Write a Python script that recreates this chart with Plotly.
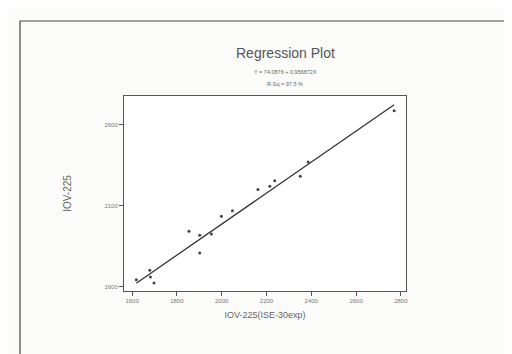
import plotly.graph_objects as go

# Data
x_obs = [1619, 1679, 1682, 1698, 1854, 1902, 1902, 1954, 1999, 2048, 2162, 2215, 2237, 2351, 2386, 2770]
y_obs = [1645, 1703, 1662, 1625, 1944, 1919, 1810, 1927, 2036, 2071, 2201, 2222, 2256, 2283, 2372, 2688]
intercept = 74.0876
slope = 0.956872
x_ticks = [1600, 1800, 2000, 2200, 2400, 2600, 2800]
y_ticks = [1600, 2100, 2600]

x_fit = [min(x_obs), max(x_obs)]
y_fit = [intercept + slope * v for v in x_fit]

W, H = 512, 354
L, R, T, B = 116, 114, 88, 71
pw, ph = W - L - R, H - T - B

def px(xp):
    return (xp - L) / pw

def py(yp):
    return (H - B - yp) / ph

fig = go.Figure()
fig.add_trace(go.Scatter(x=x_fit, y=y_fit, mode="lines",
                         line=dict(color="#333333", width=1.3), hoverinfo="skip"))
fig.add_trace(go.Scatter(x=x_obs, y=y_obs, mode="markers",
                         marker=dict(color="#444444", size=3)))

axis_common = dict(showgrid=False, zeroline=False, showline=True, linecolor="#555555",
                   linewidth=1, mirror=True, ticks="outside", ticklen=4,
                   tickcolor="#555555", tickfont=dict(size=6, color="#777777",
                                                      family="Liberation Sans"))
fig.update_xaxes(range=[1564, 2823], tickvals=x_ticks,
                 ticktext=[str(v) for v in x_ticks],
                 title=dict(text="IOV-225(ISE-30exp)", standoff=8,
                            font=dict(size=9, color="#666666", family="Liberation Sans")),
                 **axis_common)
fig.update_yaxes(range=[1575, 2779], tickvals=y_ticks,
                 ticktext=[str(v) for v in y_ticks],
                 title=dict(text="IOV-225", standoff=30,
                            font=dict(size=10, color="#666666", family="Liberation Sans")),
                 **axis_common)

fig.update_layout(
    width=W, height=H, showlegend=False,
    paper_bgcolor="#fbfbf9", plot_bgcolor="#ffffff",
    margin=dict(l=L, r=R, t=T, b=B),
    shapes=[dict(type="rect", xref="paper", yref="paper",
                 x0=px(12), x1=px(530), y0=py(370), y1=py(13),
                 line=dict(color="#444444", width=1.2))],
    annotations=[
        dict(text="Regression Plot", xref="paper", yref="paper", x=px(277), y=py(35),
             showarrow=False, font=dict(size=14, color="#555555", family="Liberation Sans")),
        dict(text="Y = 74.0876 + 0.956872X", xref="paper", yref="paper", x=px(277), y=py(59),
             showarrow=False, font=dict(size=5.5, color="#666666", family="Liberation Sans")),
        dict(text="R-Sq = 97.5 %", xref="paper", yref="paper", x=px(277), y=py(71),
             showarrow=False, font=dict(size=5.5, color="#666666", family="Liberation Sans")),
    ],
)

fig.write_html("out.html")
